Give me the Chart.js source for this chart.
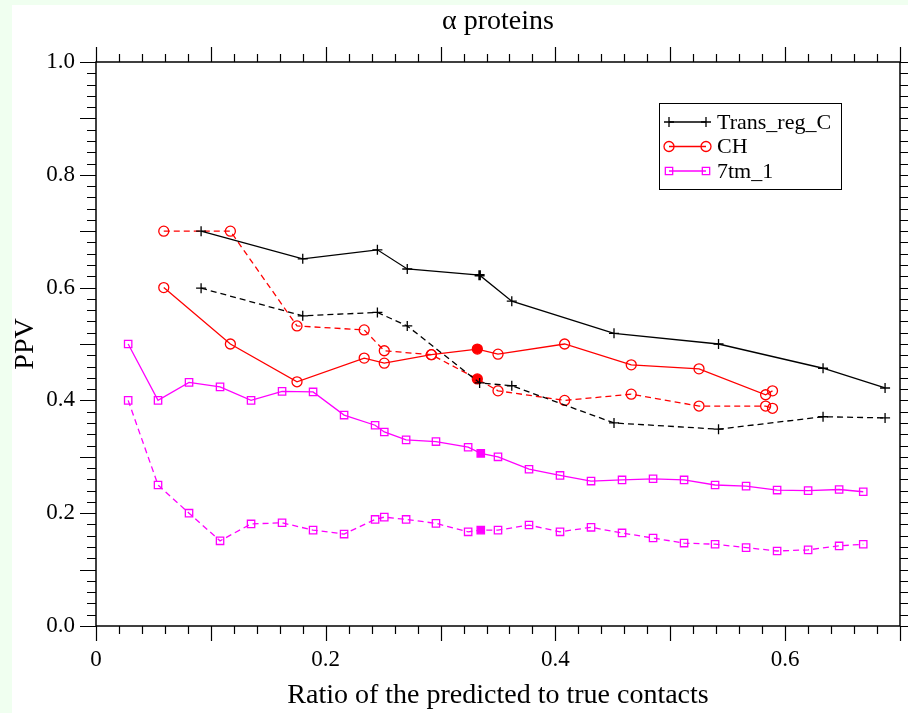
<!DOCTYPE html>
<html>
<head>
<meta charset="utf-8">
<script src="https://cdn.jsdelivr.net/npm/chart.js@4.4.1/dist/chart.umd.min.js"></script>
<style>
  body { margin: 0; background: #f0fff0; }
  #wrap { position: absolute; left: 12px; top: 5px; width: 896px; height: 708px; background: #fff; }
</style>
</head>
<body>
<div id="wrap"><canvas id="myChart" width="896" height="708"></canvas></div>
<script>
// values
const transX = [0.0915, 0.180, 0.245, 0.271, 0.334, 0.362, 0.451, 0.542, 0.633, 0.687];
const transSolid = [0.700, 0.651, 0.667, 0.633, 0.622, 0.576, 0.519, 0.500, 0.457, 0.422];
const transDashed = [0.599, 0.550, 0.556, 0.532, 0.431, 0.426, 0.360, 0.349, 0.371, 0.369];

const chX = [0.059, 0.117, 0.175, 0.2335, 0.251, 0.292, 0.332, 0.350, 0.408, 0.466, 0.525, 0.583, 0.589];
const chSolid = [0.600, 0.500, 0.433, 0.475, 0.466, 0.481, 0.491, 0.482, 0.500, 0.463, 0.456, 0.410, 0.417];
const chDashed = [0.700, 0.700, 0.532, 0.525, 0.488, 0.481, 0.438, 0.417, 0.400, 0.411, 0.390, 0.390, 0.386];

const tmX = [0.028, 0.054, 0.081, 0.108, 0.135, 0.162, 0.189, 0.216, 0.243, 0.251, 0.270, 0.296, 0.324,
  0.335, 0.350, 0.377, 0.404, 0.431, 0.458, 0.485, 0.512, 0.539, 0.566, 0.593, 0.620, 0.647, 0.668];
const tmSolid = [0.500, 0.400, 0.432, 0.424, 0.400, 0.416, 0.415, 0.374, 0.356, 0.344, 0.330, 0.327, 0.317,
  0.306, 0.300, 0.278, 0.267, 0.257, 0.259, 0.261, 0.259, 0.250, 0.248, 0.241, 0.240, 0.242, 0.238];
const tmDashed = [0.400, 0.250, 0.200, 0.151, 0.181, 0.183, 0.170, 0.163, 0.189, 0.193, 0.189, 0.182, 0.167,
  0.170, 0.170, 0.179, 0.167, 0.175, 0.165, 0.156, 0.147, 0.145, 0.139, 0.133, 0.135, 0.142, 0.145];

// the highlighted (filled) point of each series
const transMark = 4;
const chMark = 6;
const tmMark = 13;

const seriesNames = ["Trans_reg_C", "CH", "7tm_1"];
const xTicks = [0, 0.2, 0.4, 0.6];
const yTicks = [0, 0.2, 0.4, 0.6, 0.8, 1.0];

const SERIF = "'Liberation Serif', 'DejaVu Serif', serif";

function pts(xs, ys) {
  return xs.map((x, i) => ({ x: x, y: ys[i] }));
}

function series(label, xs, ys, color, style, radius, mark, dashed) {
  return {
    label: label,
    data: pts(xs, ys),
    showLine: true,
    borderColor: color,
    borderWidth: 1.3,
    borderDash: dashed ? [6, 4] : [],
    pointStyle: style,
    pointRadius: radius,
    pointBorderColor: color,
    pointBorderWidth: (c) => (style === "cross" && c.dataIndex === mark ? 2.6 : 1.3),
    pointBackgroundColor: (c) => (c.dataIndex === mark ? color : "rgba(0,0,0,0)"),
    tension: 0,
  };
}

const datasets = [
  series(seriesNames[0], transX, transSolid, "#000000", "cross", 5, transMark, false),
  series(seriesNames[0] + " (dashed)", transX, transDashed, "#000000", "cross", 5, -1, true),
  series(seriesNames[1], chX, chSolid, "#ff0000", "circle", 5, chMark, false),
  series(seriesNames[1] + " (dashed)", chX, chDashed, "#ff0000", "circle", 5, chMark, true),
  series(seriesNames[2], tmX, tmSolid, "#ff00ff", "rect", 5.2, tmMark, false),
  series(seriesNames[2] + " (dashed)", tmX, tmDashed, "#ff00ff", "rect", 5.2, tmMark, true),
];

// frame with outward tick marks on all four sides
const framePlugin = {
  id: "frame",
  afterDatasetsDraw(chart) {
    const { ctx, chartArea: a, scales } = chart;
    ctx.save();
    ctx.strokeStyle = "#000";
    ctx.lineWidth = 1.5;
    ctx.strokeRect(a.left, a.top, a.right - a.left, a.bottom - a.top);
    ctx.lineWidth = 1.2;
    ctx.beginPath();
    for (let i = 0; i <= 35; i++) {
      const px = Math.round(scales.x.getPixelForValue(i * 0.02)) + 0.5;
      const len = i % 5 === 0 ? 15 : 8;
      ctx.moveTo(px, a.bottom); ctx.lineTo(px, a.bottom + len);
      ctx.moveTo(px, a.top); ctx.lineTo(px, a.top - len);
    }
    for (let i = 0; i <= 50; i++) {
      const py = Math.round(scales.y.getPixelForValue(i * 0.02)) + 0.5;
      const len = i % 5 === 0 ? 16 : 9;
      ctx.moveTo(a.left, py); ctx.lineTo(a.left - len, py);
      ctx.moveTo(a.right, py); ctx.lineTo(a.right + len, py);
    }
    ctx.stroke();
    ctx.restore();
  },
};

// legend drawn as line + two open markers, like the original
const legendPlugin = {
  id: "boxLegend",
  afterDraw(chart) {
    const ctx = chart.ctx;
    const box = { x: 647, y: 98, w: 182, h: 86 };
    ctx.save();
    ctx.fillStyle = "#fff";
    ctx.fillRect(box.x, box.y, box.w, box.h);
    ctx.strokeStyle = "#000";
    ctx.lineWidth = 1;
    ctx.strokeRect(box.x + 0.5, box.y + 0.5, box.w, box.h);
    const rows = [0, 2, 4];
    rows.forEach((di, r) => {
      const ds = chart.data.datasets[di];
      const y = box.y + 19 + r * 24.5;
      const x0 = box.x + 10, x1 = box.x + 47;
      ctx.strokeStyle = ds.borderColor;
      ctx.fillStyle = "rgba(0,0,0,0)";
      ctx.lineWidth = 1.3;
      ctx.setLineDash([]);
      ctx.beginPath(); ctx.moveTo(x0, y); ctx.lineTo(x1, y); ctx.stroke();
      [x0, x1].forEach((x) => {
        Chart.helpers.drawPoint(ctx, { pointStyle: ds.pointStyle, radius: ds.pointRadius, rotation: 0, borderWidth: 1.3 }, x, y);
      });
      ctx.fillStyle = "#000";
      ctx.font = "22px " + SERIF;
      ctx.textBaseline = "middle";
      ctx.fillText(seriesNames[r], box.x + 58, y + 1);
    });
    ctx.restore();
  },
};

const ctx = document.getElementById("myChart").getContext("2d");
const myChart = new Chart(ctx, {
  type: "scatter",
  data: { datasets: datasets },
  plugins: [framePlugin, legendPlugin],
  options: {
    responsive: false,
    animation: false,
    layout: { padding: { right: 8, left: 0, top: 0, bottom: 0 } },
    plugins: {
      legend: { display: false },
      tooltip: { enabled: false },
      title: {
        display: true,
        text: "α proteins",
        fullSize: false,
        color: "#000",
        font: { family: SERIF, size: 28, weight: "normal" },
        padding: { top: 0, bottom: 23.4 },
      },
    },
    scales: {
      x: {
        type: "linear",
        min: 0,
        max: 0.7,
        afterBuildTicks: (s) => { s.ticks = xTicks.map((v) => ({ value: v })); },
        afterFit: (s) => { s.height = 87; },
        grid: { display: false, tickLength: 0 },
        border: { display: false },
        ticks: {
          color: "#000",
          padding: 20,
          font: { family: SERIF, size: 23 },
          callback: (v) => (v === 0 ? "0" : String(Math.round(v * 10) / 10)),
        },
        title: {
          display: true,
          text: "Ratio of the predicted to true contacts",
          color: "#000",
          font: { family: SERIF, size: 28 },
          padding: { top: 0, bottom: 1 },
        },
      },
      y: {
        type: "linear",
        min: 0,
        max: 1,
        afterBuildTicks: (s) => { s.ticks = yTicks.map((v) => ({ value: v })); },
        afterFit: (s) => { s.width = 84; },
        grid: { display: false, tickLength: 0 },
        border: { display: false },
        ticks: {
          color: "#000",
          padding: 21,
          font: { family: SERIF, size: 23 },
          callback: (v) => v.toFixed(1),
        },
        title: {
          display: true,
          text: "PPV",
          color: "#000",
          font: { family: SERIF, size: 28, lineHeight: 1 },
          padding: { top: 0, bottom: 0 },
        },
      },
    },
  },
});
</script>
</body>
</html>
